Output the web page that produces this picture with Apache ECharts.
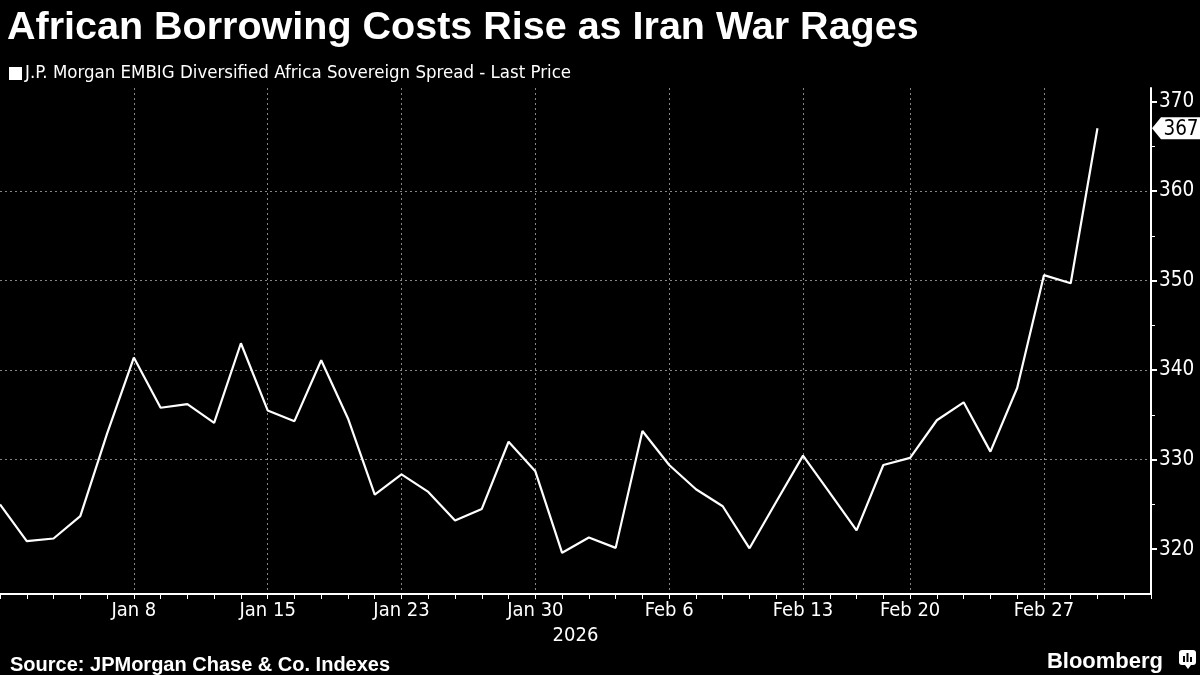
<!DOCTYPE html>
<html>
<head>
<meta charset="utf-8">
<title>African Borrowing Costs</title>
<script src="https://cdn.jsdelivr.net/npm/echarts@6/dist/echarts.min.js"></script>
<style>
  html, body { margin: 0; padding: 0; background: #000; }
  #main { width: 1200px; height: 675px; }
</style>
</head>
<body>
<div id="main"></div>
<script type="text/javascript">
// business days, Jan 19 and Feb 16 are skipped; last two are empty padding
var dates = ['Jan 1', 'Jan 2', 'Jan 5', 'Jan 6', 'Jan 7', 'Jan 8', 'Jan 9', 'Jan 12', 'Jan 13', 'Jan 14',
  'Jan 15', 'Jan 16', 'Jan 20', 'Jan 21', 'Jan 22', 'Jan 23', 'Jan 26', 'Jan 27', 'Jan 28', 'Jan 29',
  'Jan 30', 'Feb 2', 'Feb 3', 'Feb 4', 'Feb 5', 'Feb 6', 'Feb 9', 'Feb 10', 'Feb 11', 'Feb 12',
  'Feb 13', 'Feb 17', 'Feb 18', 'Feb 19', 'Feb 20', 'Feb 23', 'Feb 24', 'Feb 25', 'Feb 26', 'Feb 27',
  'Mar 2', 'Mar 3', 'Mar 4', 'Mar 5'];

var spread = [325.0, 320.9, 321.2, 323.7, 332.9, 341.4, 335.8, 336.2, 334.1, 343.0,
  335.5, 334.3, 341.1, 334.6, 326.1, 328.35, 326.4, 323.2, 324.5, 332.0,
  328.7, 319.6, 321.3, 320.15, 333.2, 329.4, 326.7, 324.8, 320.1, 325.3,
  330.45, 326.3, 322.1, 329.4, 330.2, 334.4, 336.4, 330.9, 338.0, 350.6,
  349.7, 367.0];

var xTickLabels = ['Jan 8', 'Jan 15', 'Jan 23', 'Jan 30', 'Feb 6', 'Feb 13', 'Feb 20', 'Feb 27'];
var yTicks = [320, 330, 340, 350, 360, 370];
var yMinorTicks = [325, 335, 345, 355, 365];

var seriesName = 'J.P. Morgan EMBIG Diversified Africa Sovereign Spread - Last Price';
var lastValue = spread[spread.length - 1];

var myChart = echarts.init(document.getElementById('main'));

function isLabelDate(idx, val) {
  return xTickLabels.indexOf(val) >= 0;
}

var gridColor = '#858585';

var option = {
  backgroundColor: '#000',
  animation: false,
  title: [{
    text: 'African Borrowing Costs Rise as Iran War Rages',
    left: 2, top: 3,
    textStyle: { color: '#fff', fontSize: 39.5, fontWeight: 'bold', fontFamily: 'Liberation Sans' }
  }, {
    text: 'Source: JPMorgan Chase & Co. Indexes',
    left: 5, top: 650,
    textStyle: { color: '#fff', fontSize: 20, fontWeight: 'bold', fontFamily: 'Liberation Sans' }
  }, {
    text: 'Bloomberg',
    right: 32, top: 646,
    textStyle: { color: '#fff', fontSize: 22, fontWeight: 'bold', fontFamily: 'Liberation Sans' }
  }],
  legend: {
    left: 4, top: 59,
    icon: 'rect', itemWidth: 13, itemHeight: 13, itemGap: 4,
    textStyle: { color: '#fff', fontSize: 18.5, fontFamily: 'DejaVu Sans Condensed', padding: [0, 0, 0, -2] },
    data: [seriesName]
  },
  grid: { left: 0, right: 49, top: 88, bottom: 81, containLabel: false },
  xAxis: {
    type: 'category',
    data: dates,
    boundaryGap: false,
    name: '2026',
    nameLocation: 'middle',
    nameGap: 30,
    nameTextStyle: { color: '#fff', fontSize: 20, fontFamily: 'DejaVu Sans Condensed' },
    axisLine: { show: true, lineStyle: { color: '#fff', width: 2 } },
    axisTick: { show: true, interval: 0, length: 5, lineStyle: { color: '#fff', width: 1 } },
    axisLabel: {
      interval: isLabelDate, color: '#fff', fontSize: 20,
      fontFamily: 'DejaVu Sans Condensed', margin: 7
    },
    splitLine: { show: true, interval: isLabelDate, lineStyle: { color: gridColor, type: [2, 3], width: 1 } }
  },
  yAxis: [{
    type: 'value',
    position: 'right',
    min: 315, max: 371.5,
    axisLine: { show: true, lineStyle: { color: '#fff', width: 2 } },
    axisTick: { show: true, customValues: yTicks, length: 6, lineStyle: { color: '#fff', width: 2 } },
    axisLabel: {
      customValues: yTicks, color: '#fff', fontSize: 20.5,
      fontFamily: 'DejaVu Sans Condensed', margin: 8
    },
    splitLine: { show: true, showMinLine: false, showMaxLine: false,
      lineStyle: { color: gridColor, type: [2, 3], width: 1 } }
  }, {
    type: 'value',
    position: 'right',
    min: 315, max: 371.5,
    axisLine: { show: false },
    axisTick: { show: true, customValues: yMinorTicks, length: 4, lineStyle: { color: '#fff', width: 1 } },
    axisLabel: { show: false },
    splitLine: { show: false }
  }],
  series: [{
    name: seriesName,
    type: 'line',
    data: spread,
    symbol: 'none',
    itemStyle: { color: '#fff' },
    lineStyle: { color: '#fff', width: 2.2 },
    markPoint: {
      silent: true,
      symbol: 'path://M0,11 L9,0 L48,0 L48,22 L9,22 Z',
      symbolSize: [48, 22],
      symbolKeepAspect: false,
      symbolOffset: [25, 0],
      itemStyle: { color: '#fff' },
      label: {
        show: true, color: '#000', fontSize: 20.5,
        fontFamily: 'DejaVu Sans Condensed', offset: [5, 1],
        formatter: function (p) { return String(Math.round(p.value)); }
      },
      data: [{ coord: [dates.length - 1, lastValue], value: lastValue }]
    }
  }],
  graphic: [{
    type: 'group', left: 1179, top: 650,
    children: [
      { type: 'rect', shape: { x: 0, y: 0, width: 17, height: 15, r: 3 }, style: { fill: '#fff' } },
      { type: 'polygon', shape: { points: [[6, 15], [9, 19], [12, 15]] }, style: { fill: '#fff' } },
      { type: 'rect', shape: { x: 4, y: 6, width: 2, height: 6 }, style: { fill: '#000' } },
      { type: 'rect', shape: { x: 7.5, y: 3, width: 2, height: 9 }, style: { fill: '#000' } },
      { type: 'rect', shape: { x: 11, y: 7, width: 2, height: 5 }, style: { fill: '#000' } }
    ]
  }]
};

myChart.setOption(option);
</script>
</body>
</html>
